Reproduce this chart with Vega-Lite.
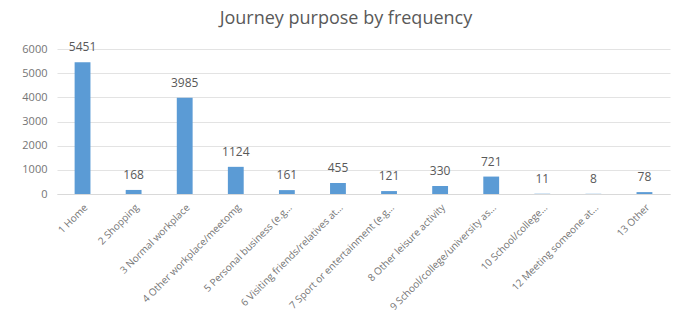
{
  "$schema": "https://vega.github.io/schema/vega-lite/v6.json",
  "width": 613,
  "height": 145,
  "autosize": "none",
  "padding": {"left": 57, "top": 49, "right": 4, "bottom": 135},
  "background": "white",
  "title": {
    "text": "Journey purpose by frequency",
    "font": "Open Sans",
    "fontSize": 18,
    "fontWeight": "normal",
    "color": "#595959",
    "anchor": "middle",
    "frame": "bounds",
    "offset": 13
  },
  "data": {
    "values": [
      {"purpose": "1 Home", "journeys": 5451},
      {"purpose": "2 Shopping", "journeys": 168},
      {"purpose": "3  Normal workplace", "journeys": 3985},
      {"purpose": "4 Other workplace/meetomg", "journeys": 1124},
      {"purpose": "5 Personal business (e.g…", "journeys": 161},
      {"purpose": "6 Visiting friends/relatives at…", "journeys": 455},
      {"purpose": "7 Sport or entertainment (e.g…", "journeys": 121},
      {"purpose": "8 Other leisure activity", "journeys": 330},
      {"purpose": "9 School/college/university as…", "journeys": 721},
      {"purpose": "10 School/college…", "journeys": 11},
      {"purpose": "12 Meeting someone at…", "journeys": 8},
      {"purpose": "13 Other", "journeys": 78}
    ]
  },
  "encoding": {
    "x": {
      "field": "purpose",
      "type": "nominal",
      "sort": null,
      "title": null,
      "scale": {"paddingInner": 0.69, "paddingOuter": 0.345},
      "axis": {
        "labelAngle": -45,
        "labelFont": "Open Sans",
        "labelFontSize": 10,
        "labelColor": "#757575",
        "labelPadding": 8,
        "labelLimit": 200,
        "ticks": false,
        "domainColor": "#d9d9d9"
      }
    },
    "y": {
      "field": "journeys",
      "type": "quantitative",
      "title": null,
      "scale": {"domain": [0, 6000]},
      "axis": {
        "values": [0, 1000, 2000, 3000, 4000, 5000, 6000],
        "format": "d",
        "labelFont": "Open Sans",
        "labelFontSize": 11,
        "labelColor": "#757575",
        "labelPadding": 10,
        "ticks": false,
        "domain": false,
        "gridColor": "#e3e3e3"
      }
    }
  },
  "layer": [
    {"mark": {"type": "bar", "color": "#5B9BD5"}},
    {
      "mark": {
        "type": "text",
        "baseline": "bottom",
        "dy": -8,
        "font": "Open Sans",
        "fontSize": 12,
        "color": "#595959"
      },
      "encoding": {"text": {"field": "journeys", "type": "quantitative"}}
    }
  ],
  "config": {"view": {"stroke": null}}
}
